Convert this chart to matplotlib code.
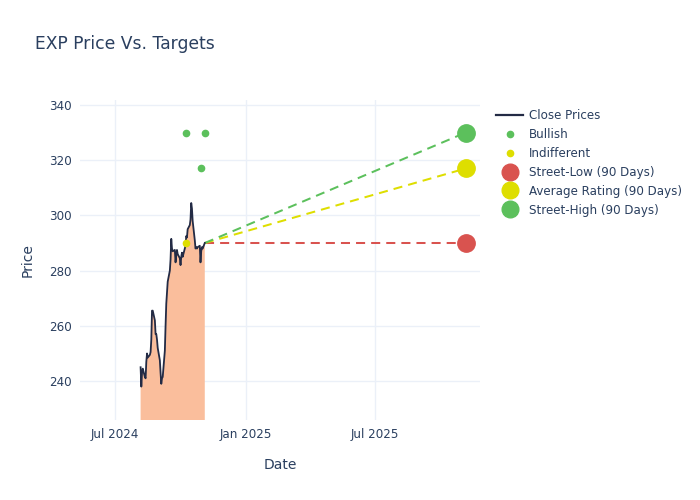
import matplotlib.pyplot as plt
import matplotlib.dates as mdates
import pandas as pd
from matplotlib.lines import Line2D

# Daily closes (business days).
CLOSE_START = "2024-08-06"
CLOSES = [
    245, 238, 243, 244.5, 241.5, 241, 247, 250, 248.5, 249.5,
    250.5, 255, 265.5, 265.5, 262, 257, 257, 255, 252, 247.5,
    243, 239, 241, 241.5, 251, 260, 268, 272, 276, 280,
    284, 291.5, 288, 287, 287.5, 283, 285.5, 287.5, 286, 284.5,
    282, 285, 286.5, 285, 288, 289, 292.5, 292, 295, 296.5,
    298.5, 304.5, 302.5, 298, 291, 288, 288.5, 288, 288.5, 289,
    283, 287, 288.5, 288, 290,
]

# Individual analyst ratings.
BULLISH_DATES = ["2024-10-08", "2024-11-04", "2024-10-30"]
BULLISH_TARGETS = [330, 330, 317]
INDIFFERENT_DATES = ["2024-10-08"]
INDIFFERENT_TARGETS = [290]

# 90-day consensus targets, one year out.
TARGET_DATE = "2025-11-05"
STREET_LOW = 290
AVERAGE = 317
STREET_HIGH = 330

TEXT = "#2a3f5f"
GRID = "#ebf0f8"
RED = "#d9534f"
YELLOW = "#dede00"
GREEN = "#5cc05c"


def main() -> None:
    dates = pd.bdate_range(CLOSE_START, periods=len(CLOSES))
    closes = pd.Series(CLOSES, index=dates)
    last_date, last_close = dates[-1], closes.iloc[-1]
    tdate = pd.Timestamp(TARGET_DATE)

    fig = plt.figure(figsize=(7, 5), dpi=100)
    ax = fig.add_axes([80 / 700, 80 / 500, 400 / 700, 320 / 500])

    ax.fill_between(dates, closes, 0, color="#fabe9c", linewidth=0, zorder=1)
    ax.plot(dates, closes, color="#232b45", linewidth=1.3, zorder=3)

    for value, color in ((STREET_LOW, RED), (AVERAGE, YELLOW), (STREET_HIGH, GREEN)):
        ax.plot([last_date, tdate], [last_close, value], color=color,
                linestyle=(0, (4.5, 3)), linewidth=1.45, zorder=2)
        ax.plot([tdate], [value], "o", color=color, markersize=12.5, zorder=4)

    ax.plot(pd.to_datetime(BULLISH_DATES), BULLISH_TARGETS, "o", color=GREEN,
            markersize=4.5, linestyle="none", zorder=4)
    ax.plot(pd.to_datetime(INDIFFERENT_DATES), INDIFFERENT_TARGETS, "o", color=YELLOW,
            markersize=4.5, linestyle="none", zorder=4)

    ax.set_xlim(pd.Timestamp("2024-05-13"), pd.Timestamp("2025-11-25"))
    ax.set_ylim(225.9, 341.8)
    ax.set_yticks(range(240, 341, 20))
    ax.set_xticks(pd.to_datetime(["2024-07-01", "2025-01-01", "2025-07-01"]))
    ax.xaxis.set_major_formatter(mdates.DateFormatter("%b %Y"))

    ax.grid(color=GRID, linewidth=1)
    ax.set_axisbelow(True)
    for spine in ax.spines.values():
        spine.set_visible(False)
    ax.tick_params(length=0, colors=TEXT, labelsize=8.6, pad=6)
    ax.set_xlabel("Date", color=TEXT, fontsize=10, labelpad=12)
    ax.set_ylabel("Price", color=TEXT, fontsize=10, labelpad=10)

    fig.text(35 / 700, 1 - 44 / 500, "EXP Price Vs. Targets", color=TEXT,
             fontsize=12.3, va="center", ha="left")

    handles = [
        Line2D([], [], color="#232b45", linewidth=1.6),
        Line2D([], [], marker="o", color=GREEN, markersize=4.5, linestyle="none"),
        Line2D([], [], marker="o", color=YELLOW, markersize=4.5, linestyle="none"),
        Line2D([], [], marker="o", color=RED, markersize=12, linestyle="none"),
        Line2D([], [], marker="o", color=YELLOW, markersize=12, linestyle="none"),
        Line2D([], [], marker="o", color=GREEN, markersize=12, linestyle="none"),
    ]
    labels = ["Close Prices", "Bullish", "Indifferent", "Street-Low (90 Days)",
              "Average Rating (90 Days)", "Street-High (90 Days)"]
    leg = fig.legend(handles, labels, loc="upper left",
                     bbox_to_anchor=(491 / 700, 1 - 104 / 500), frameon=False,
                     fontsize=8.6, handlelength=2.3, handletextpad=0.45,
                     labelspacing=0.5, borderaxespad=0)
    for t in leg.get_texts():
        t.set_color(TEXT)

    fig.savefig("out.png", dpi=100)
    plt.close(fig)


if __name__ == "__main__":
    main()
